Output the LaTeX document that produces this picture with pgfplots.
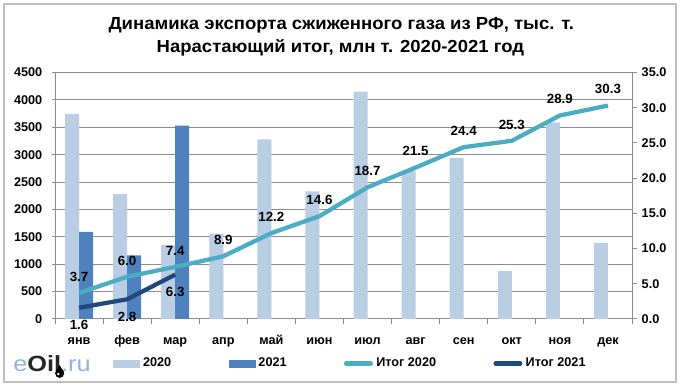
\documentclass[border=0pt]{standalone}
\usepackage{fontspec}
\setmainfont{Liberation Sans}
\newfontfamily\titlefont[FakeStretch=1.06]{Liberation Sans}
\usepackage{pgfplots}
\pgfplotsset{compat=1.18}
\definecolor{c20}{HTML}{B9CDE5}
\definecolor{c21}{HTML}{4F81BD}
\definecolor{l20}{HTML}{4BACC6}
\definecolor{l21}{HTML}{1F497D}
\definecolor{gridc}{HTML}{8C8C8C}
\definecolor{axc}{HTML}{8C8C8C}
\definecolor{framec}{HTML}{BFBFBF}
\definecolor{logoblue}{HTML}{8EB4E3}
\begin{document}
\begin{tikzpicture}
\useasboundingbox (0,0) rectangle (511.5pt,291.75pt);
\draw[framec, line width=1.5pt] (3pt,5.25pt) rectangle (507pt,288.75pt);
\node[anchor=base, inner sep=0pt, font=\titlefont\fontsize{13.1}{15}\selectfont\bfseries] at (255.9pt,269.8pt) {Динамика экспорта сжиженного газа из РФ, тыс. т.};
\node[anchor=base, inner sep=0pt, font=\titlefont\fontsize{13.1}{15}\selectfont\bfseries] at (255.3pt,252.2pt) {Нарастающий итог, млн т. 2020-2021 год};
% logo
\node[anchor=base west, inner sep=0pt, xscale=1.15, font=\fontsize{16.5}{17}\selectfont] at (9.75pt,12.97pt) {\textcolor{logoblue}{e}\textcolor{black!85}{\bfseries Oil}\textcolor{logoblue}{.ru}};
\begin{scope}[xshift=-2.5pt]
\fill[black] (47.25pt,18pt) .. controls (48.5pt,15pt) and (50.65pt,13.5pt) .. (50.65pt,11.75pt) arc[start angle=0,end angle=-180,radius=3.4pt] .. controls (43.85pt,13.5pt) and (46pt,15pt) .. (47.25pt,18pt);
\fill[white] (46.2pt,11.2pt) circle[radius=1pt];
\end{scope}

\begin{axis}[
  at={(41.25pt,52.5pt)}, anchor=south west, scale only axis,
  width=432.75pt, height=184.875pt,
  xmin=-0.5, xmax=11.5, ymin=0, ymax=4500,
  ytick={0,500,...,4500},
  xtick={0,...,11},
  xticklabels={янв,фев,мар,апр,май,июн,июл,авг,сен,окт,ноя,дек},
  minor xtick={-0.5,0.5,...,11.5},
  major x tick style={draw=none},
  tick align=outside,
  major tick length=2pt, minor tick length=4pt,
  axis x line*=bottom, axis y line*=left,
  axis line style={axc, line width=0.75pt, -},
  tick style={axc, line width=0.75pt},
  ymajorgrids, grid style={gridc, line width=0.75pt},
  scaled y ticks=false,
  /pgf/number format/assume math mode=true,
  /pgf/number format/1000 sep={},
  yticklabel style={font=\fontsize{9.5}{10}\selectfont\bfseries, xshift=-4pt},
  xticklabel style={font=\fontsize{9.5}{10}\selectfont\bfseries, anchor=base, yshift=-17pt},
  ybar, bar width=10.5pt,
]
\addplot[ybar, fill=c20, draw=none, bar shift=-5.25pt] coordinates {
(0,3745) (1,2280) (2,1350) (3,1560) (4,3280) (5,2330)
(6,4150) (7,2710) (8,2940) (9,880) (10,3590) (11,1390)};
\addplot[ybar, fill=c21, draw=none, bar shift=5.25pt] coordinates {
(0,1590) (1,1160) (2,3530)};
\end{axis}

\begin{axis}[
  at={(41.25pt,52.5pt)}, anchor=south west, scale only axis,
  width=432.75pt, height=184.875pt,
  xmin=-0.5, xmax=11.5, ymin=0, ymax=35,
  axis x line=none, axis y line*=right,
  ytick={0,5,...,35},
  yticklabel={\pgfmathprintnumber[fixed,fixed zerofill,precision=1]{\tick}},
  /pgf/number format/assume math mode=true,
  tick align=outside, major tick length=3.75pt,
  axis line style={axc, line width=0.75pt, -},
  tick style={axc, line width=0.75pt},
  yticklabel style={font=\fontsize{9.5}{10}\selectfont\bfseries},
  clip=false,
  legend columns=4,
  legend style={draw=none, fill=none, inner sep=0pt, anchor=west,
    at={(0.1005,-0.1805)},
    font=\fontsize{9.5}{10}\selectfont\bfseries,
    nodes={inner sep=0pt},
    /tikz/every odd column/.append style={column sep=2.5pt},
    /tikz/every even column/.append style={column sep=43pt}},
  legend cell align=left,
  nodes near coords={\pgfmathprintnumber[fixed,fixed zerofill,precision=1,assume math mode=true]{\pgfplotspointmeta}},
  every node near coord/.append style={font=\fontsize{10}{11}\selectfont\bfseries, text=black, inner sep=0pt},
]
\addlegendimage{legend image code/.code={\fill[c20] (0pt,-2.6pt) rectangle (19.5pt,2.6pt);}}
\addlegendentry{2020}
\addlegendimage{legend image code/.code={\fill[c21] (0pt,-2.6pt) rectangle (19.5pt,2.6pt);}}
\addlegendentry{2021}
\addplot[l20, line width=3.2pt, line join=round, mark=none,
  every node near coord/.append style={anchor=base, yshift=8.8pt},
  legend image code/.code={\draw[l20, line width=3.2pt, line cap=round] (1.6pt,0pt) -- (20.1pt,0pt);}]
  coordinates {(0,3.7) (1,6.0) (2,7.4) (3,8.9) (4,12.2) (5,14.6) (6,18.7) (7,21.5) (8,24.4) (9,25.3) (10,28.9) (11,30.3)};
\addlegendentry{Итог 2020}
\addplot[l21, line width=3.2pt, line join=round, mark=none,
  every node near coord/.append style={anchor=base, yshift=-16.5pt},
  legend image code/.code={\draw[l21, line width=3.2pt, line cap=round] (1.6pt,0pt) -- (20.1pt,0pt);}]
  coordinates {(0,1.6) (1,2.8) (2,6.3)};
\addlegendentry{Итог 2021}
\end{axis}
\end{tikzpicture}
\end{document}
